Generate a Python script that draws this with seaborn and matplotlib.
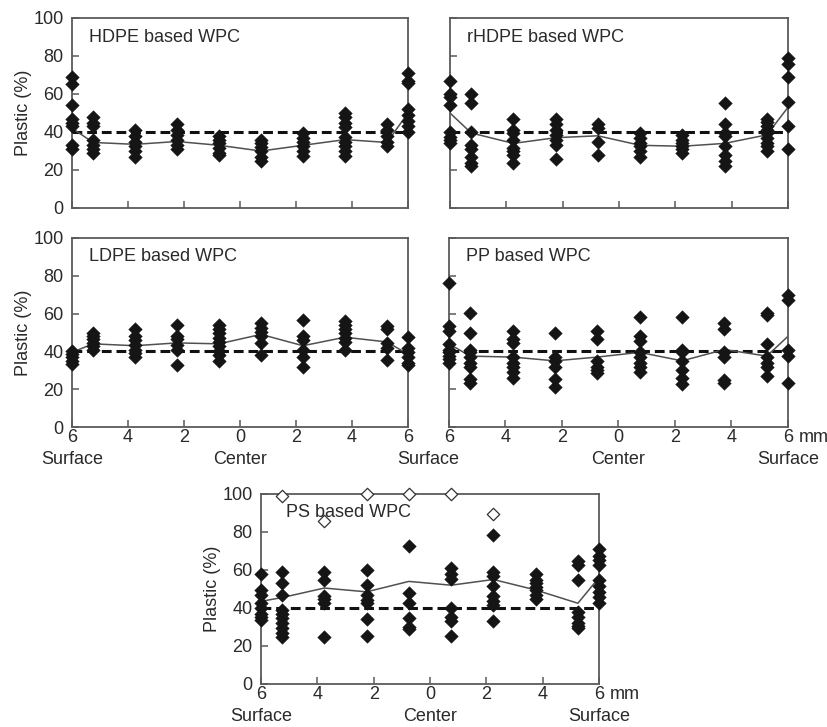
import numpy as np
import pandas as pd
import matplotlib
matplotlib.use("Agg")
import matplotlib.pyplot as plt
import matplotlib.transforms as mtransforms
import seaborn as sns

# ---------------- data ----------------
positions = [-6, -5.25, -3.75, -2.25, -0.75, 0.75, 2.25, 3.75, 5.25, 6]
tick_pos = [-6, -4, -2, 0, 2, 4, 6]
tick_labels = ["6", "4", "2", "0", "2", "4", "6"]
nominal = 40

hdpe_points = [
    [69, 65, 54, 47, 45, 43, 33, 31],
    [48, 45, 43, 36, 33, 31, 29],
    [41, 38, 35, 32.5, 30, 27],
    [44, 41, 38.5, 36, 33, 31],
    [38, 36, 34, 31.5, 29, 28],
    [36, 34, 32, 30, 27, 24.5],
    [39.5, 37, 35, 32.5, 30, 27.5],
    [50, 48, 45, 42.5, 37.5, 35, 32.5, 30, 27.5],
    [44, 41, 38, 35, 32.5],
    [71, 67, 66, 52, 49, 46, 43, 40],
]
hdpe_curve = [42, 34.5, 33.5, 35, 33, 30, 33, 36, 34.5, 50]

rhdpe_points = [
    [67, 60, 58.5, 54, 40, 37.5, 36, 34],
    [60, 55, 40, 33, 31, 27, 23.5, 22],
    [47, 41, 39.5, 36, 31.5, 30, 28, 23.5],
    [47, 44, 41, 38.5, 36, 33, 26],
    [44, 42, 35, 28],
    [39.5, 37, 34, 32.5, 30, 27],
    [38.5, 36, 34, 32.5, 31, 29],
    [55, 44, 39.5, 38, 32.5, 28, 24.5, 22],
    [47, 45.5, 43, 41, 39.5, 37, 34, 32.5, 30],
    [79, 76, 69, 56, 43, 31],
]
rhdpe_curve = [50, 39.5, 34, 37, 38, 33, 32.5, 34, 38.5, 53]

ldpe_points = [
    [40, 38.5, 37, 35, 33.5],
    [50, 48, 46.5, 44.5, 43, 41],
    [52, 48, 46, 43.5, 41, 39, 37],
    [54, 48, 46.5, 43.5, 41, 33],
    [54, 52, 49.5, 47, 45, 43, 40, 38, 35],
    [55, 52.5, 50.5, 48, 44.5, 38],
    [56.5, 48, 46, 41, 37, 32],
    [56, 54, 52, 49.5, 47, 45, 41],
    [53.5, 52, 44.5, 42, 35.5],
    [47.5, 42, 39.5, 37, 34, 33],
]
ldpe_curve = [39.5, 44, 43, 44.5, 44, 49, 43, 47.5, 45, 38.5]

pp_points = [
    [76, 53.5, 51, 44, 41, 39.5, 37.5, 36, 34],
    [60.5, 50, 41, 39.5, 37, 34, 31.5, 25.5, 23.5],
    [51, 46.5, 44.5, 37, 34, 31.5, 29, 26],
    [50, 37, 35, 31.5, 25.5, 21],
    [51, 46.5, 35, 31.5, 30, 28.5],
    [58, 48, 45.5, 39.5, 37, 34, 31.5, 29],
    [58, 41, 39.5, 35, 30, 26, 23],
    [55, 52, 39.5, 37, 25, 23.5],
    [60.5, 59, 44, 37, 34, 31.5, 27],
    [70, 67, 41, 37.5, 23.5],
]
pp_curve = [44, 37.5, 37, 35, 37, 39.5, 35, 41, 37.5, 48]

ps_points = [
    [58, 49.5, 47, 42.5, 40, 37, 35.5, 33.5],
    [59, 53, 47, 39, 37, 34.5, 32, 29.5, 27, 25],
    [59, 55, 46.5, 45, 42.5, 25],
    [60, 52, 47, 44, 42.5, 34, 25.5],
    [72.5, 48, 42.5, 34.5, 30, 29],
    [61, 58, 55.5, 40, 35.5, 33, 25.5],
    [78.5, 59, 57, 51.5, 46.5, 43.5, 41.5, 33],
    [58, 55, 53, 51, 49.5, 47, 45],
    [64.5, 62.5, 55, 38, 35.5, 32, 30.5, 29.5],
    [71, 67.5, 65.5, 62.5, 55, 51.5, 48.5, 46, 42.5],
]
ps_curve = [43.5, 45.5, 50.5, 48.5, 54, 52, 55, 49.5, 42.5, 56]
ps_outlier_x = [-5.25, -3.75, -2.25, -0.75, 0.75, 2.25]
ps_outlier_y = [99, 86, 100, 100, 100, 89.5]

panel_names = ["HDPE based WPC", "rHDPE based WPC", "LDPE based WPC",
               "PP based WPC", "PS based WPC"]

# ---------------- style ----------------
sns.set_theme(style="white")
plt.rcParams["font.family"] = ["Liberation Sans", "DejaVu Sans"]
plt.rcParams["font.size"] = 13
TXT = "#2a2a2a"
SPINE = "#5a5a5a"

W, H = 828, 727
fig = plt.figure(figsize=(W / 100, H / 100), dpi=100)
fig.patch.set_facecolor("white")


def px_axes(left, top, right, bottom):
    return fig.add_axes([left / W, (H - bottom) / H, (right - left) / W, (bottom - top) / H])


def long_df(points):
    xs, ys = [], []
    for p, vals in zip(positions, points):
        for v in vals:
            xs.append(p)
            ys.append(v)
    return pd.DataFrame({"pos": xs, "val": ys})


def draw_panel(ax, points, curve, name, show_x, ylab=True, name_xy=(0.05, 0.9)):
    ax.set_facecolor("white")
    df = long_df(points)
    ax.axhline(nominal, color="#111111", lw=2.2, ls=(0, (3.2, 1.6)), zorder=2)
    cdf = pd.DataFrame({"pos": positions, "val": curve})
    sns.lineplot(data=cdf, x="pos", y="val", ax=ax, color="#505050", lw=1.1,
                 zorder=3, legend=False)
    sns.scatterplot(data=df, x="pos", y="val", ax=ax, marker="D", s=48,
                    color="#151515", edgecolor="#151515", linewidth=0.3,
                    zorder=6, legend=False, clip_on=False)
    ax.set_xlim(-6, 6)
    ax.set_ylim(0, 100)
    ax.set_yticks([0, 20, 40, 60, 80, 100])
    ax.set_xticks(tick_pos)
    for s in ax.spines.values():
        s.set_color(SPINE)
        s.set_linewidth(1.3)
        s.set_visible(True)
        s.set_zorder(5)
    ax.tick_params(axis="both", direction="in", length=5, width=1.1, color=SPINE,
                   labelcolor=TXT, labelsize=13, top=False, right=False,
                   bottom=True, left=True)
    ax.tick_params(axis="x", pad=1.5)
    ax.tick_params(axis="y", pad=6)
    if show_x:
        ax.set_xticklabels(tick_labels)
    else:
        ax.set_xticklabels([])
    if ylab:
        ax.set_ylabel("Plastic (%)", fontsize=13, color=TXT)
        ax.yaxis.set_label_coords(-0.118, 0.5)
    else:
        ax.set_ylabel("")
        ax.set_yticklabels([])
    ax.set_xlabel("")
    ax.text(name_xy[0], name_xy[1], name, transform=ax.transAxes, ha="left",
            va="center", fontsize=13, color=TXT, zorder=7)


def under_label(ax, x, text):
    trans = mtransforms.blended_transform_factory(ax.transData, ax.transAxes)
    ax.annotate(text, xy=(x, 0), xycoords=trans, xytext=(0, -23.5),
                textcoords="offset points", ha="center", va="center",
                fontsize=13, color=TXT, annotation_clip=False)


def add_mm(ax):
    ax.annotate("mm", xy=(1, 0), xycoords="axes fraction", xytext=(8.0, -1.5),
                textcoords="offset points", ha="left", va="top", fontsize=13,
                color=TXT, annotation_clip=False)


ax1 = px_axes(72, 18, 408, 208)
ax2 = px_axes(450, 18, 788, 208)
ax3 = px_axes(72, 238, 408, 427)
ax4 = px_axes(449, 238, 788, 427)
ax5 = px_axes(261, 494, 599, 684)

draw_panel(ax1, hdpe_points, hdpe_curve, panel_names[0], False, ylab=True)
draw_panel(ax2, rhdpe_points, rhdpe_curve, panel_names[1], False, ylab=False)
draw_panel(ax3, ldpe_points, ldpe_curve, panel_names[2], True, ylab=True)
draw_panel(ax4, pp_points, pp_curve, panel_names[3], True, ylab=False)
draw_panel(ax5, ps_points, ps_curve, panel_names[4], True, ylab=True,
           name_xy=(0.074, 0.905))

# open diamonds (PS outliers)
odf = pd.DataFrame({"pos": ps_outlier_x, "val": ps_outlier_y})
sns.scatterplot(data=odf, x="pos", y="val", ax=ax5, marker="D", s=40,
                facecolor="white", edgecolor="#333333", linewidth=0.9,
                zorder=8, legend=False, clip_on=False)
ax5.set_xlabel("")
ax5.set_ylabel("Plastic (%)", fontsize=13, color=TXT)

# position labels under the x axes
under_label(ax3, -6, "Surface")
under_label(ax3, 0, "Center")
under_label(ax4, 0, "Center")
under_label(ax4, 6, "Surface")
under_label(ax5, -6, "Surface")
under_label(ax5, 0, "Center")
under_label(ax5, 6, "Surface")

add_mm(ax4)
add_mm(ax5)

# shared "Surface" label between LDPE and PP panels
fig.text(428 / W, (H - 460) / H, "Surface", ha="center", va="center",
         fontsize=13, color=TXT)

fig.savefig("out.png", dpi=100, facecolor="white")
